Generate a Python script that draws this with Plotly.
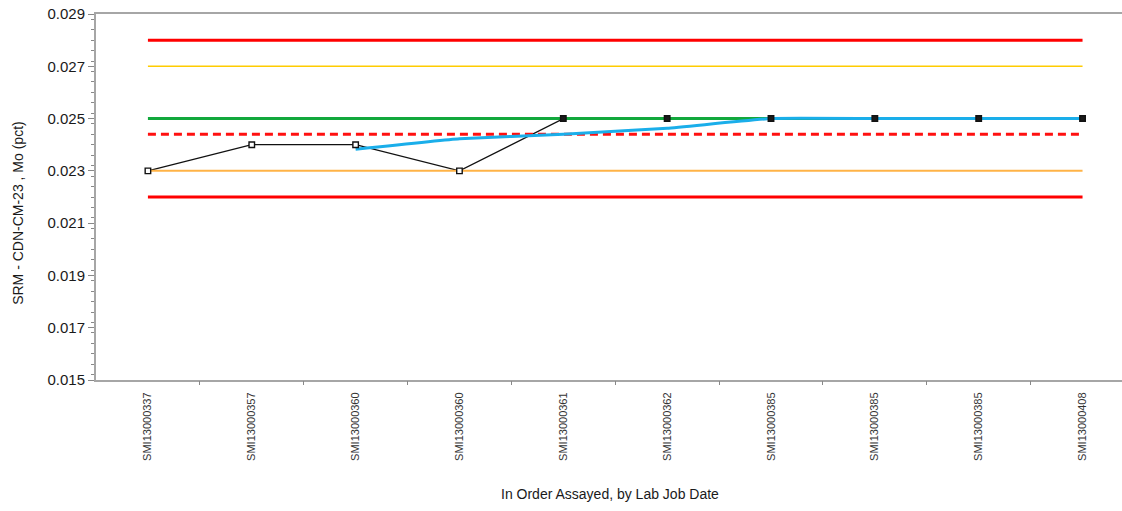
import plotly.graph_objects as go

# Lab jobs in assay order
jobs = ["SMI13000337", "SMI13000357", "SMI13000360", "SMI13000360", "SMI13000361",
        "SMI13000362", "SMI13000385", "SMI13000385", "SMI13000385", "SMI13000408"]
# Assayed Mo (pct) for the standard
assays = [0.023, 0.024, 0.024, 0.023, 0.025, 0.025, 0.025, 0.025, 0.025, 0.025]
# Running trend of the assays (starts at the third job)
trend_start = 2
trend = [0.02383, 0.02423, 0.02440, 0.02463, 0.025, 0.025, 0.025, 0.025]

# Control levels
certified = 0.025
mean_assay = 0.0244
warn_hi, warn_lo = 0.027, 0.023
ctrl_hi, ctrl_lo = 0.028, 0.022

y_ticks = [0.015, 0.017, 0.019, 0.021, 0.023, 0.025, 0.027, 0.029]

idx = list(range(len(jobs)))
ends = [idx[0], idx[-1]]

fig = go.Figure()

# assay trace line sits underneath the control levels
fig.add_trace(go.Scatter(x=idx, y=assays, mode="lines", hoverinfo="skip",
                         line=dict(color="#111111", width=1.3), showlegend=False))


def level(y, color, width, dash="solid"):
    fig.add_trace(go.Scatter(x=ends, y=[y, y], mode="lines", hoverinfo="skip",
                             line=dict(color=color, width=width, dash=dash),
                             showlegend=False))


level(ctrl_hi, "#FF0000", 3)
level(ctrl_lo, "#FF0000", 3)
level(warn_hi, "#FFCC00", 1.6)
level(warn_lo, "#FFB347", 2)
level(certified, "#12A83C", 3)
level(mean_assay, "#FF1010", 3, dash="8px,5px")

# marker fill: hollow below the certified value, dark on it
fills = ["white" if v < certified else "#1a1a1a" for v in assays]

fig.add_trace(go.Scatter(x=idx[trend_start:], y=trend, mode="lines",
                         line=dict(color="#1AAEEA", width=3, shape="spline",
                                   smoothing=0.3),
                         showlegend=False))

fig.add_trace(go.Scatter(x=idx, y=assays, mode="markers",
                         marker=dict(symbol="square", size=5.5, color=fills,
                                     line=dict(color="#111111", width=1.4)),
                         showlegend=False))

# invisible trace to activate the boundary-tick axis
fig.add_trace(go.Scatter(x=[idx[0]], y=[assays[0]], xaxis="x2", mode="markers",
                         marker=dict(opacity=0), hoverinfo="skip", showlegend=False))

axis_grey = "#A6A6A6"
font = "Liberation Sans, Arial, sans-serif"

fig.update_layout(
    width=1122, height=511,
    margin=dict(l=96, r=0, t=14, b=131),
    paper_bgcolor="white", plot_bgcolor="white",
    font=dict(family=font, color="#1a1a1a"),
    xaxis=dict(range=[-0.5, 9.38], tickmode="array", tickvals=idx, ticktext=jobs,
               tickangle=-90, ticks="", tickfont=dict(size=11, color="#333333"),
               ticklabelstandoff=6, showgrid=False, zeroline=False,
               showline=True, linecolor=axis_grey, linewidth=2, mirror=True),
    xaxis2=dict(overlaying="x", matches="x", anchor="y", side="bottom",
                tickmode="array", tickvals=[i + 0.5 for i in idx[:-1]],
                ticks="outside", ticklen=4, tickcolor="#888888",
                showticklabels=False, showgrid=False, zeroline=False, showline=False),
    yaxis=dict(range=[0.015, 0.029], tickmode="array", tickvals=y_ticks,
               tickformat=".3f", ticks="outside", ticklen=6, tickcolor="#888888",
               tickfont=dict(size=15, color="#1a1a1a"),
               minor=dict(dtick=0.0004, ticks="outside", ticklen=3, tickcolor="#888888"),
               showgrid=False, zeroline=False, showline=True,
               linecolor=axis_grey, linewidth=2),
    annotations=[
        dict(text="SRM - CDN-CM-23 , Mo (pct)", textangle=-90,
             xref="paper", yref="paper", x=-0.086, y=0.456,
             showarrow=False, font=dict(size=14, color="#1a1a1a")),
        dict(text="In Order Assayed, by Lab Job Date",
             xref="x", yref="paper", x=4.45, y=-0.34,
             showarrow=False, font=dict(size=14, color="#1a1a1a")),
    ],
)

fig.write_html("out.html")
